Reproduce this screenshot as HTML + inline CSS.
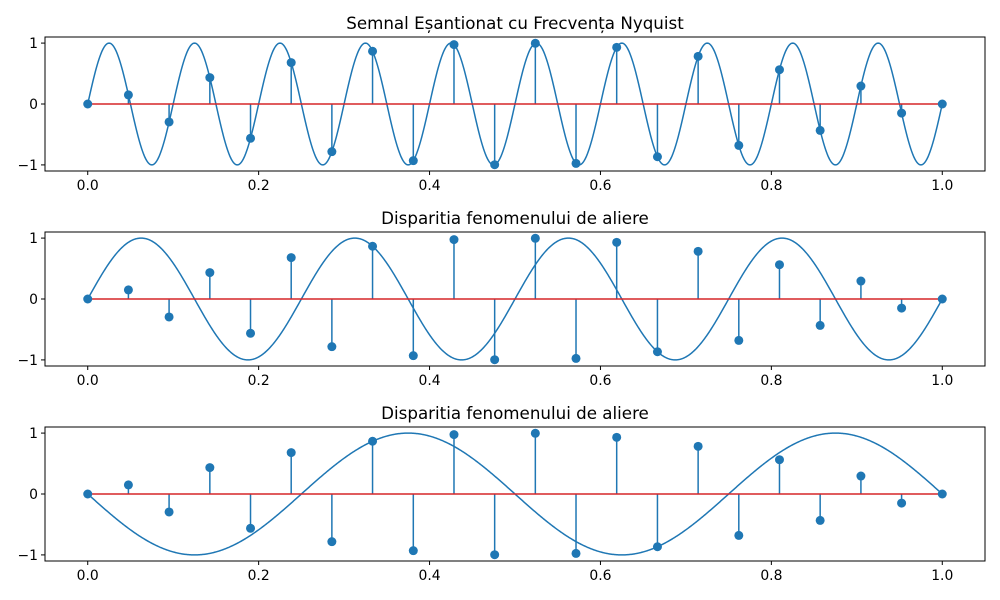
<!DOCTYPE html>
<html><head><meta charset="utf-8"><style>
html,body{margin:0;padding:0;background:#fff;}
svg{display:block;font-family:"DejaVu Sans","Liberation Sans",sans-serif;}
</style></head><body>
<svg id="fig" width="1000" height="600" xmlns="http://www.w3.org/2000/svg"></svg>
<script>
const sampleT = [0,0.0476,0.0952,0.1429,0.1905,0.2381,0.2857,0.3333,0.381,0.4286,0.4762,0.5238,0.5714,0.619,0.6667,0.7143,0.7619,0.8095,0.8571,0.9048,0.9524,1.0];
const sampleV = [0,0.149,-0.295,0.434,-0.563,0.680,-0.782,0.866,-0.930,0.975,-0.997,0.997,-0.975,0.930,-0.866,0.782,-0.680,0.563,-0.434,0.295,-0.149,0];
const titles = ["Semnal Eșantionat cu Frecvența Nyquist","Disparitia fenomenului de aliere","Disparitia fenomenului de aliere"];
const curveFreq = [10, 4, -2];
const xTicks = [0,0.2,0.4,0.6,0.8,1.0];
const xTickLabels = ["0.0","0.2","0.4","0.6","0.8","1.0"];
const yTicks = [-1,0,1];
const yTickLabels = ["−1","0","1"];

const NS="http://www.w3.org/2000/svg";
const svg=document.getElementById('fig');
function mk(tag,attrs,parent){const e=document.createElementNS(NS,tag);for(const k in attrs)e.setAttribute(k,attrs[k]);(parent||svg).appendChild(e);return e;}
const L=45,R=985,tops=[37,232,427],H=134;
const xmin=-0.05,xmax=1.05,ymin=-1.1,ymax=1.1;
tops.forEach((T,p)=>{
  const X=v=>L+(v-xmin)/(xmax-xmin)*(R-L);
  const Y=v=>T+H-(v-ymin)/(ymax-ymin)*H;
  const g=mk('g',{});
  
  
  const t=mk('text',{x:(L+R)/2,y:T-8,'text-anchor':'middle','font-size':16.7,fill:'#000'},g);
  t.textContent=titles[p];
  
  
  let d='';
  for(let i=0;i<=1000;i++){const tt=i/1000;d+=(i?'L':'M')+X(tt).toFixed(2)+','+Y(Math.sin(2*Math.PI*curveFreq[p]*tt)).toFixed(2);}
  const c=mk('path',{d:d,fill:'none',stroke:'#1f77b4','stroke-width':1.5},g);
  
  
  sampleT.forEach((tt,i)=>{
    const s=mk('line',{x1:X(tt),x2:X(tt),y1:Y(0),y2:Y(sampleV[i]),stroke:'#1f77b4','stroke-width':1.5},g);
    
    
  });
  const b=mk('line',{x1:X(0),x2:X(1),y1:Y(0),y2:Y(0),stroke:'#d62728','stroke-width':1.5},g);
  
  
  sampleT.forEach((tt,i)=>{
    const m=mk('circle',{cx:X(tt),cy:Y(sampleV[i]),r:4.5,fill:'#1f77b4'},g);
    
    
  });
  const fr=mk('rect',{x:L,y:T,width:R-L,height:H,fill:'none',stroke:'#000','stroke-width':1},g);
  
  
  xTicks.forEach((v,i)=>{
    mk('line',{x1:X(v),x2:X(v),y1:T+H,y2:T+H+4,stroke:'#000'},g);
    const l=mk('text',{x:X(v),y:T+H+19,'text-anchor':'middle','font-size':13.9,fill:'#000'},g);
    l.textContent=xTickLabels[i];
    
    
  });
  yTicks.forEach((v,i)=>{
    mk('line',{x1:L-4,x2:L,y1:Y(v),y2:Y(v),stroke:'#000'},g);
    const l=mk('text',{x:L-7,y:Y(v)+5,'text-anchor':'end','font-size':13.9,fill:'#000'},g);
    l.textContent=yTickLabels[i];
    
    
  });
});
</script>
</body></html>
